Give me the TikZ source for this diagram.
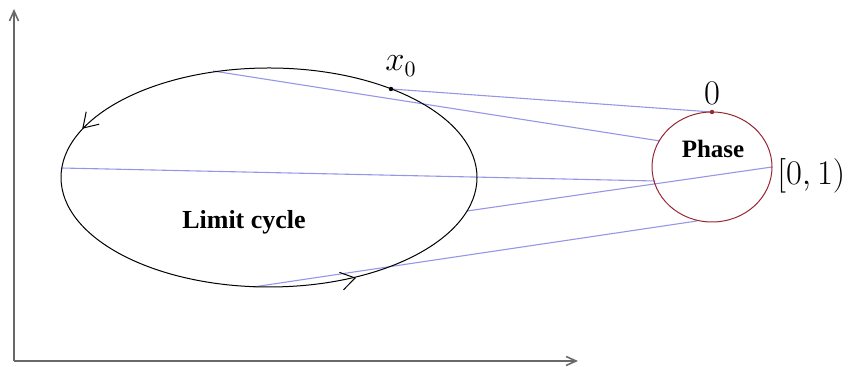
\documentclass[tikz,border=0pt]{standalone}
\usepackage{fontspec}
\setmainfont{Liberation Serif}
\usetikzlibrary{arrows.meta}
\definecolor{linkblue}{RGB}{150,150,230}
\definecolor{phasered}{RGB}{150,40,50}
\definecolor{axisgray}{RGB}{105,105,105}

\begin{document}
\begin{tikzpicture}[x=0.5pt,y=0.5pt,
    link/.style={linkblue,line width=0.55pt},
    flow/.style={-{Straight Barb[length=7pt,width=9pt]},line width=0.5pt},
    axis/.style={axisgray,line width=0.8pt,-{Straight Barb[length=5pt,width=4.5pt]}}]
  \useasboundingbox (0,0) rectangle (850,367);
  % axes
  \coordinate (o) at (14,6);
  \coordinate (ytip) at (14,358);
  \coordinate (xtip) at (578,6);
  \draw[axis] (o) -- (ytip);
  \draw[axis] (o) -- (xtip);
  % limit cycle and phase circle
  \coordinate (cyc) at (269,189.5);
  \coordinate (ph) at (712,200);
  \coordinate (cyctop) at (213,296);
  \coordinate (x0) at (391,278);
  \coordinate (cycleft) at (61,199);
  \coordinate (cycright) at (467,156);
  \coordinate (cycbot) at (253,80);
  \coordinate (phul) at (660,226);
  \coordinate (phtop) at (712,255);
  \coordinate (phleft) at (655,186);
  \coordinate (phright) at (772,200);
  \coordinate (phbot) at (697,146);
  % projections onto the phase
  \draw[link] (cyctop) -- (phul);
  \draw[link] (x0) -- (phtop);
  \draw[link] (cycleft) -- (phleft);
  \draw[link] (cycright) -- (phright);
  \draw[link] (cycbot) -- (phbot);
  \draw[line width=0.5pt] (cyc) ellipse [x radius=208, y radius=109.5];
  \draw[phasered,line width=0.5pt] (ph) ellipse [x radius=60, y radius=55];
  % direction of motion
  \coordinate (tipl) at (83,239);
  \coordinate (tipb) at (355,89);
  \draw[flow] (tipl) -- ++(226:1);
  \draw[flow] (tipb) -- ++(13:1);
  \fill (x0) circle [radius=2.2];
  \fill[phasered] (phtop) circle [radius=2.2];
  % labels
  \node[font=\fontsize{13}{15}\selectfont\bfseries,anchor=base] (limit) at (244,138) {Limit cycle};
  \node[font=\fontsize{12.5}{15}\selectfont\bfseries,anchor=base] (phase) at (713,209) {Phase};
  \node[font=\fontsize{16}{19}\selectfont,anchor=base,inner sep=0pt] (zero) at (712,262) {$0$};
  \node[font=\fontsize{16}{19}\selectfont,anchor=base west,inner sep=0pt] (x0lab) at (385,296) {$x_0$};
  \node[font=\fontsize{19}{22}\selectfont,anchor=base west,inner sep=0pt] (range) at (777,182) {$[0,1)$};
\end{tikzpicture}
\end{document}
